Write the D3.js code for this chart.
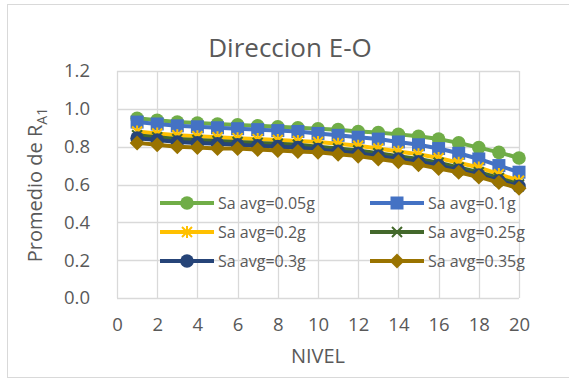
<!DOCTYPE html>
<html>
<head>
<meta charset="utf-8">
<script src="https://cdn.jsdelivr.net/npm/d3@7"></script>
<style>
  html, body { margin: 0; padding: 0; background: #fff; }
  svg { display: block; font-family: "Open Sans", Lato, sans-serif; }
</style>
</head>
<body>
<svg id="chart" width="569" height="379"></svg>
<script>
// Floor levels
const niveles = d3.range(1, 21);

// Average R_A1 per level, one array per spectral acceleration
const sa005 = [0.95,0.94,0.93,0.925,0.92,0.915,0.91,0.905,0.90,0.895,0.89,0.88,0.875,0.865,0.855,0.84,0.82,0.795,0.77,0.74];
const sa010 = [0.93,0.92,0.91,0.905,0.90,0.895,0.89,0.885,0.88,0.87,0.86,0.85,0.84,0.825,0.81,0.79,0.765,0.735,0.70,0.665];
const sa020 = [0.88,0.87,0.86,0.855,0.85,0.845,0.84,0.835,0.83,0.825,0.815,0.805,0.79,0.775,0.76,0.74,0.715,0.69,0.655,0.62];
const sa025 = [0.86,0.85,0.84,0.835,0.83,0.825,0.82,0.815,0.81,0.80,0.79,0.78,0.765,0.75,0.735,0.715,0.69,0.665,0.635,0.60];
const sa030 = [0.845,0.835,0.825,0.82,0.815,0.81,0.805,0.80,0.795,0.785,0.775,0.765,0.75,0.735,0.72,0.70,0.675,0.65,0.62,0.59];
const sa035 = [0.82,0.81,0.80,0.795,0.79,0.79,0.785,0.78,0.775,0.77,0.76,0.75,0.735,0.72,0.705,0.685,0.665,0.64,0.61,0.58];

const seriesNames = ["Sa avg=0.05g","Sa avg=0.1g","Sa avg=0.2g","Sa avg=0.25g","Sa avg=0.3g","Sa avg=0.35g"];
const seriesValues = [sa005, sa010, sa020, sa025, sa030, sa035];
const seriesColors = ["#70AD47","#4472C4","#FFC000","#43682B","#264478","#997300"];
const seriesMarkers = ["circle","square","star","x","circle","diamond"];

const xTicks = d3.range(0, 21, 2);
const yTicks = [0, 0.2, 0.4, 0.6, 0.8, 1.0, 1.2];

const svg = d3.select("#chart");
const textColor = "#595959";
const gridColor = "#D9D9D9";

// chart frame
svg.append("rect").attr("x", 7.5).attr("y", 4.5).attr("width", 570).attr("height", 373)
  .attr("fill", "#fff").attr("stroke", gridColor).attr("stroke-width", 1);

const x = d3.scaleLinear().domain([0, 20]).range([117, 519]);
const y = d3.scaleLinear().domain([0, 1.2]).range([298, 71]);

// gridlines
const grid = svg.append("g");
grid.selectAll("line.h").data(yTicks).join("line")
  .attr("x1", x(0)).attr("x2", x(20))
  .attr("y1", d => Math.round(y(d)) + 0.5).attr("y2", d => Math.round(y(d)) + 0.5)
  .attr("stroke", gridColor).attr("stroke-width", 1.3);
grid.selectAll("line.v").data(xTicks).join("line")
  .attr("y1", y(0)).attr("y2", y(1.2))
  .attr("x1", d => Math.round(x(d)) + 0.5).attr("x2", d => Math.round(x(d)) + 0.5)
  .attr("stroke", gridColor).attr("stroke-width", 1.3);

// axes
const xAxis = svg.append("g").attr("transform", `translate(0,${y(0)})`)
  .call(d3.axisBottom(x).tickValues(xTicks).tickSize(0).tickPadding(20).tickFormat(d3.format("d")));
const yAxis = svg.append("g").attr("transform", `translate(${x(0)},0)`)
  .call(d3.axisLeft(y).tickValues(yTicks).tickSize(0).tickPadding(27).tickFormat(d3.format(".1f")));
[xAxis, yAxis].forEach(a => {
  a.select(".domain").remove();
  a.selectAll("text").attr("fill", textColor).style("font-size", "18.5px").style("font-family", "\"Open Sans\", sans-serif");
});

// axis titles
svg.append("text").attr("x", 318).attr("y", 363).attr("text-anchor", "middle")
  .attr("fill", textColor).style("font-size", "20px").text("NIVEL");
const yt = svg.append("text").attr("transform", "translate(42,185) rotate(-90)")
  .attr("text-anchor", "middle").attr("fill", textColor).style("font-size", "20px");
yt.append("tspan").text("Promedio de R");
yt.append("tspan").attr("dy", 5).style("font-size", "14px").text("A1");

// title
svg.append("text").attr("x", 290).attr("y", 57).attr("text-anchor", "middle")
  .attr("fill", textColor).style("font-size", "26px").text("Direccion E-O");

// marker drawing
function drawMarker(g, type, color, cx, cy) {
  if (type === "circle") {
    g.append("circle").attr("cx", cx).attr("cy", cy).attr("r", 6.8).attr("fill", color);
  } else if (type === "square") {
    g.append("rect").attr("x", cx - 6.5).attr("y", cy - 6.5).attr("width", 13).attr("height", 13).attr("fill", color);
  } else if (type === "diamond") {
    g.append("path").attr("d", `M${cx},${cy-7.5}L${cx+7.5},${cy}L${cx},${cy+7.5}L${cx-7.5},${cy}Z`).attr("fill", color);
  } else if (type === "x") {
    g.append("path").attr("d", `M${cx-5},${cy-5}L${cx+5},${cy+5}M${cx-5},${cy+5}L${cx+5},${cy-5}`)
      .attr("stroke", color).attr("stroke-width", 2);
  } else if (type === "star") {
    g.append("path").attr("d", `M${cx-5},${cy-5}L${cx+5},${cy+5}M${cx-5},${cy+5}L${cx+5},${cy-5}M${cx},${cy-6}L${cx},${cy+6}`)
      .attr("stroke", color).attr("stroke-width", 2);
  }
}

// series
const line = d3.line().x((d, i) => x(niveles[i])).y(d => y(d));
seriesValues.forEach((vals, s) => {
  const g = svg.append("g");
  g.append("path").datum(vals).attr("d", line).attr("fill", "none")
    .attr("stroke", seriesColors[s]).attr("stroke-width", 4).attr("stroke-linejoin", "round");
  vals.forEach((v, i) => drawMarker(g, seriesMarkers[s], seriesColors[s], x(niveles[i]), y(v)));
});

// legend
const legendPos = [[160, 203], [370, 203], [160, 232], [370, 232], [160, 261], [370, 261]];
seriesNames.forEach((name, s) => {
  const [lx, ly] = legendPos[s];
  const g = svg.append("g");
  g.append("line").attr("x1", lx).attr("x2", lx + 54).attr("y1", ly).attr("y2", ly)
    .attr("stroke", seriesColors[s]).attr("stroke-width", 4);
  drawMarker(g, seriesMarkers[s], seriesColors[s], lx + 27, ly);
  g.append("text").attr("x", lx + 58).attr("y", ly + 5.5).attr("fill", textColor)
    .style("font-size", "16px").text(name);
});
</script>
</body>
</html>
